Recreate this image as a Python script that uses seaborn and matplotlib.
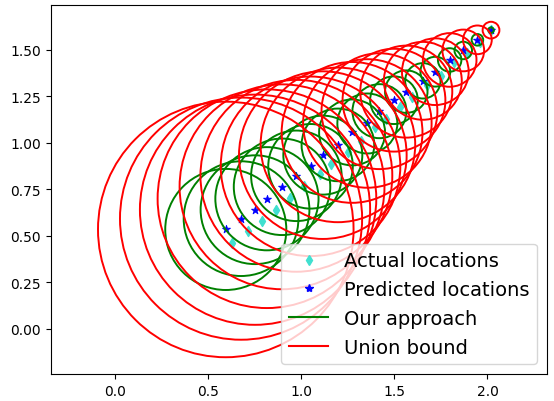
import matplotlib
matplotlib.use("Agg")
import matplotlib.pyplot as plt
import numpy as np
import pandas as pd
import seaborn as sns
from matplotlib.patches import Circle
from matplotlib.lines import Line2D

# Values
actual_x = [0.630, 0.716, 0.790, 0.867, 0.942, 1.017, 1.099, 1.161, 1.250, 1.321,
            1.398, 1.455, 1.530, 1.594, 1.674, 1.749, 1.818, 1.888, 1.960, 2.019]
actual_y = [0.459, 0.526, 0.582, 0.638, 0.705, 0.769, 0.833, 0.886, 0.952, 1.011,
            1.082, 1.126, 1.190, 1.244, 1.308, 1.357, 1.431, 1.484, 1.543, 1.604]

pred_x = [0.595, 0.677, 0.752, 0.816, 0.897, 0.974, 1.050, 1.116, 1.197, 1.273,
          1.355, 1.420, 1.498, 1.564, 1.653, 1.720, 1.797, 1.870, 1.946, 2.019]
pred_y = [0.534, 0.592, 0.640, 0.699, 0.763, 0.822, 0.873, 0.933, 0.988, 1.055,
          1.103, 1.169, 1.228, 1.274, 1.332, 1.381, 1.444, 1.495, 1.552, 1.604]

# radius of the green ("Our approach") circles
ours_r = [0.325, 0.308, 0.292, 0.277, 0.259, 0.243, 0.227, 0.212, 0.195, 0.177,
          0.161, 0.145, 0.128, 0.114, 0.095, 0.080, 0.063, 0.047, 0.031, 0.015]
# radius of the red ("Union bound") circles
union_r = [0.686, 0.650, 0.618, 0.587, 0.550, 0.515, 0.482, 0.450, 0.415, 0.378,
           0.345, 0.311, 0.276, 0.247, 0.209, 0.179, 0.144, 0.112, 0.077, 0.045]

df = pd.DataFrame({"ax": actual_x, "ay": actual_y, "px": pred_x, "py": pred_y,
                   "r_ours": ours_r, "r_union": union_r})

fig = plt.figure(figsize=(5.54, 4.02), dpi=100)
ax = fig.add_axes([50.7 / 554, 27 / 402, 496 / 554, 369 / 402])

act_col = "#40e0d0"
sns.scatterplot(data=df, x="ax", y="ay", marker="d", s=26, color=act_col,
                edgecolor=act_col, linewidth=1, ax=ax)
sns.scatterplot(data=df, x="px", y="py", marker="*", s=36, color="b",
                edgecolor="b", linewidth=0.6, ax=ax)

for _, row in df.iterrows():
    ax.add_patch(Circle((row["px"], row["py"]), row["r_ours"], fill=False,
                        edgecolor="g", linewidth=1.4))
for _, row in df.iterrows():
    ax.add_patch(Circle((row["px"], row["py"]), row["r_union"], fill=False,
                        edgecolor="r", linewidth=1.4))

ax.autoscale_view()
ax.set_aspect("equal", adjustable="datalim")
ax.set_xlabel("")
ax.set_ylabel("")

handles = [
    Line2D([], [], linestyle="none", marker="d", color=act_col, markersize=5),
    Line2D([], [], linestyle="none", marker="*", color="b", markersize=6),
    Line2D([], [], color="g", linewidth=1.5),
    Line2D([], [], color="r", linewidth=1.5),
]
labels = ["Actual locations", "Predicted locations", "Our approach", "Union bound"]
ax.legend(handles, labels, loc="lower right", fontsize=14)

fig.savefig("out.png", dpi=100)
